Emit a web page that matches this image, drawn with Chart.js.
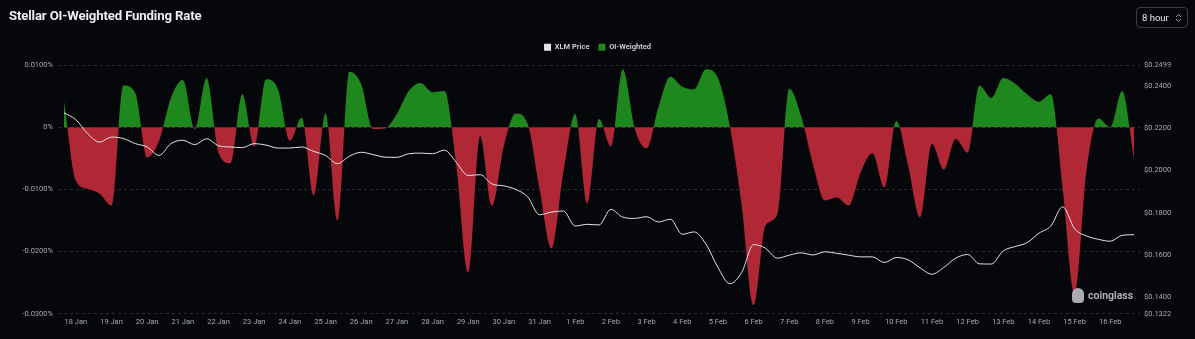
<!DOCTYPE html>
<html>
<head>
<meta charset="utf-8">
<script src="https://cdn.jsdelivr.net/npm/chart.js"></script>
<style>
  html, body { margin: 0; padding: 0; background: #05070b; }
  #wrap { position: relative; width: 1195px; height: 339px; overflow: hidden; background: #05070b; }
  #c { position: absolute; left: 0; top: 0; }
  #title { position: absolute; left: 9px; top: 8px; color: #eceef2; font-family: Roboto, sans-serif; font-weight: 700; font-size: 13.2px; letter-spacing: -0.15px; }
  #sel { position: absolute; left: 1136px; top: 7px; width: 45px; height: 19px; border: 1px solid #3a3d44; border-radius: 4px; color: #e6e8ec; font-family: Roboto, sans-serif; font-size: 9.5px; line-height: 19px; padding-left: 5px; box-sizing: content-box; }
  #sel svg { position: absolute; right: 5px; top: 5px; }
  #wm { position: absolute; left: 1072px; top: 287px; height: 18px; color: #c9cacd; font-family: Roboto, sans-serif; font-weight: 600; font-size: 10.5px; line-height: 18px; opacity: 0.9; }
  #wm .ic { display: inline-block; width: 12px; height: 15px; background: #bdbec2; border-radius: 6px 6px 4px 4px; vertical-align: middle; margin-right: 4px; margin-top: -2px; }
</style>
</head>
<body>
<div id="wrap">
  <canvas id="c" width="1195" height="339"></canvas>
  <div id="title">Stellar OI-Weighted Funding Rate</div>
  <div id="sel">8 hour<svg width="7" height="10" viewBox="0 0 7 10"><path d="M1 4 L3.5 1.5 L6 4 M1 6 L3.5 8.5 L6 6" stroke="#9a9da4" stroke-width="1" fill="none"/></svg></div>
  <div id="wm"><span class="ic"></span>coinglass</div>
</div>
<script>
// ---- data ----
const startLabel = '17 Jan 16:00';
const dayLabels = ['18 Jan','19 Jan','20 Jan','21 Jan','22 Jan','23 Jan','24 Jan','25 Jan','26 Jan','27 Jan','28 Jan','29 Jan','30 Jan','31 Jan',
  '1 Feb','2 Feb','3 Feb','4 Feb','5 Feb','6 Feb','7 Feb','8 Feb','9 Feb','10 Feb','11 Feb','12 Feb','13 Feb','14 Feb','15 Feb','16 Feb'];
const hours = ['00:00','08:00','16:00'];

// OI-weighted funding rate, in percent
const fundingRate = [
  0.0042,-0.0086,-0.0099,-0.0107,-0.0126, 0.0067, 0.0055,-0.0049,-0.0022, 0.0047,
  0.0076,-0.0003, 0.0079,-0.0041,-0.0058, 0.0053,-0.0031, 0.0077, 0.0061,-0.0022,
  0.0015,-0.0110, 0.0022,-0.0150, 0.0089, 0.0069,-0.0003,-0.0002, 0.0021, 0.0058,
  0.0071, 0.0056, 0.0058,-0.0062,-0.0233,-0.0014,-0.0126,-0.0030, 0.0022, 0.0005,
 -0.0099,-0.0195,-0.0073, 0.0021,-0.0123, 0.0013,-0.0031, 0.0093,-0.0002,-0.0034,
  0.0032, 0.0081, 0.0065, 0.0061, 0.0093, 0.0079, 0.0002,-0.0126,-0.0286,-0.0158,
 -0.0140, 0.0062, 0.0018,-0.0060,-0.0118,-0.0113,-0.0126,-0.0073,-0.0042,-0.0097,
  0.0010,-0.0062,-0.0145,-0.0027,-0.0068,-0.0019,-0.0041, 0.0067, 0.0047, 0.0079,
  0.0070, 0.0053, 0.0041, 0.0053,-0.0099,-0.0267,-0.0069, 0.0014, 0.0000, 0.0058,
 -0.0051
];

// XLM price, USD
const xlmPrice = [
  0.2273,0.2240,0.2174,0.2134,0.2158,0.2151,0.2127,0.2111,0.2071,0.2127,
  0.2143,0.2122,0.2150,0.2117,0.2111,0.2108,0.2127,0.2120,0.2106,0.2106,
  0.2111,0.2090,0.2071,0.2032,0.2067,0.2086,0.2075,0.2063,0.2062,0.2079,
  0.2082,0.2079,0.2096,0.2038,0.1976,0.1980,0.1936,0.1927,0.1910,0.1875,
  0.1790,0.1803,0.1808,0.1737,0.1745,0.1742,0.1816,0.1779,0.1773,0.1781,
  0.1756,0.1769,0.1698,0.1709,0.1651,0.1541,0.1464,0.1517,0.1649,0.1632,
  0.1585,0.1599,0.1610,0.1600,0.1615,0.1608,0.1599,0.1591,0.1591,0.1564,
  0.1588,0.1577,0.1539,0.1509,0.1541,0.1585,0.1602,0.1558,0.1557,0.1619,
  0.1640,0.1658,0.1703,0.1737,0.1828,0.1724,0.1690,0.1674,0.1665,0.1693,
  0.1696
];

const fundingTicks = [0.01, 0, -0.01, -0.02, -0.03];
const priceTicks = [0.2499, 0.24, 0.22, 0.20, 0.18, 0.16, 0.14, 0.1322];

// ---- categories (8-hour steps) ----
const categories = [startLabel];
dayLabels.forEach(d => hours.forEach(h => categories.push(d + ' ' + h)));

const GREEN = '#1e871e';
const RED = '#b02836';
const TICK = '#a7aab0';
const GRID = '#2a2d34';

Chart.defaults.font.family = 'Roboto, sans-serif';
Chart.defaults.font.size = 7.5;

// adds a little space under the legend row
const legendGap = {
  id: 'legendGap',
  beforeLayout(chart) {
    const lg = chart.legend;
    if (lg && !lg._gapPatched) {
      const fit = lg.fit.bind(lg);
      lg.fit = function () { fit(); this.height += 4; };
      lg._gapPatched = true;
    }
  }
};

new Chart(document.getElementById('c'), {
  type: 'line',
  plugins: [legendGap],
  data: {
    labels: categories,
    datasets: [
      {
        label: 'XLM Price',
        data: xlmPrice,
        yAxisID: 'y1',
        borderColor: '#e4e4e6',
        backgroundColor: '#e4e4e6',
        borderWidth: 1,
        pointRadius: 0,
        cubicInterpolationMode: 'monotone',
        fill: false
      },
      {
        label: 'OI-Weighted',
        data: fundingRate,
        yAxisID: 'y',
        borderWidth: 0,
        borderColor: 'rgba(0,0,0,0)',
        backgroundColor: GREEN,
        pointRadius: 0,
        cubicInterpolationMode: 'monotone',
        fill: { target: 'origin', above: GREEN, below: RED }
      }
    ]
  },
  options: {
    responsive: false,
    animation: false,
    devicePixelRatio: 1,
    layout: { padding: { top: 34.5, left: 0, right: 0, bottom: 0 } },
    plugins: {
      tooltip: { enabled: false },
      legend: {
        display: true,
        position: 'top',
        align: 'center',
        labels: {
          color: '#d4d6da',
          boxWidth: 7,
          boxHeight: 7,
          padding: 9,
          font: { size: 7.5, weight: '600' },
          generateLabels: (chart) => chart.data.datasets.map((ds, i) => ({
            text: ds.label,
            fillStyle: i === 0 ? '#e4e4e6' : GREEN,
            strokeStyle: 'rgba(0,0,0,0)',
            lineWidth: 0,
            fontColor: '#d4d6da',
            hidden: false,
            datasetIndex: i
          }))
        }
      }
    },
    scales: {
      x: {
        type: 'category',
        offset: true,
        grid: { display: false, drawTicks: false },
        border: { display: false },
        afterFit: (s) => { s.height = 25.3; },
        ticks: {
          color: TICK,
          autoSkip: false,
          maxRotation: 0,
          padding: 4,
          font: { size: 7.5 },
          callback: function (v, i) {
            const lab = categories[i];
            return lab.endsWith('00:00') ? lab.replace(' 00:00', '') : '';
          }
        }
      },
      y: {
        position: 'left',
        min: -0.03,
        max: 0.01,
        afterFit: (s) => { s.width = 58; },
        afterBuildTicks: (s) => { s.ticks = fundingTicks.map(v => ({ value: v })); },
        grid: { color: GRID, lineWidth: 1, drawTicks: false },
        border: { display: false, dash: [3, 3] },
        ticks: {
          color: TICK,
          padding: 5,
          font: { size: 7.5 },
          callback: (v) => v === 0 ? '0%' : v.toFixed(4) + '%'
        }
      },
      y1: {
        position: 'right',
        min: 0.1322,
        max: 0.2499,
        afterFit: (s) => { s.width = 55; },
        afterBuildTicks: (s) => { s.ticks = priceTicks.map(v => ({ value: v })); },
        grid: { display: false, drawTicks: false },
        border: { display: false },
        ticks: {
          color: TICK,
          padding: 4,
          font: { size: 7.5 },
          callback: (v) => '$' + v.toFixed(4)
        }
      }
    }
  }
});
</script>
</body>
</html>
